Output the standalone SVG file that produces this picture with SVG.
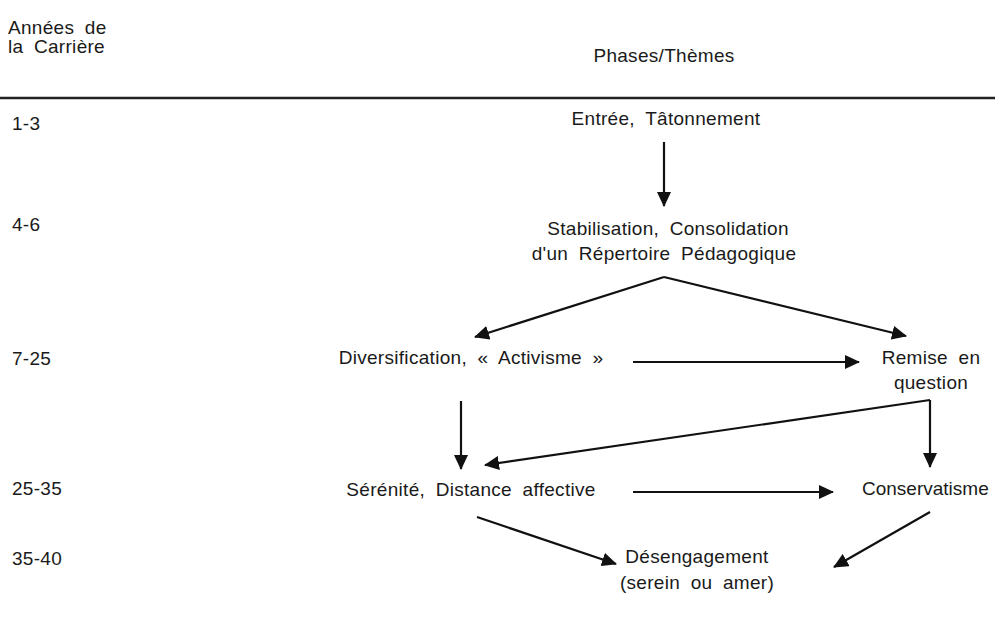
<svg xmlns="http://www.w3.org/2000/svg" width="995" height="630" viewBox="0 0 995 630">
<style>
text{font-family:"Liberation Sans",Arial,sans-serif;font-size:19px;fill:#1a1a1a;letter-spacing:0.3px;word-spacing:5px}
.c{text-anchor:middle}
.conn line,.conn polyline{stroke:#111;stroke-width:2.2;fill:none;marker-end:url(#ah)}
</style>
<defs>
<marker id="ah" markerUnits="userSpaceOnUse" markerWidth="16" markerHeight="14" refX="14" refY="7" orient="auto">
<path d="M0,0 L15,7 L0,14 Z" fill="#111"/>
</marker>
</defs>
<rect width="995" height="630" fill="#fff"/>
<g id="header">
<text x="8" y="34">Années de</text>
<text x="8" y="53">la Carrière</text>
<text class="c" x="664" y="62">Phases/Thèmes</text>
<line x1="0" y1="98" x2="995" y2="98" stroke="#222" stroke-width="2.5"/>
</g>
<g id="years">
<text x="12" y="130">1-3</text>
<text x="12" y="231">4-6</text>
<text x="12" y="365">7-25</text>
<text x="12" y="495">25-35</text>
<text x="12" y="565">35-40</text>
</g>
<g id="n-entree"><text class="c" x="666" y="125">Entrée, Tâtonnement</text></g>
<g id="n-stabilisation">
<text class="c" x="668" y="235">Stabilisation, Consolidation</text>
<text class="c" x="664" y="260">d'un Répertoire Pédagogique</text>
</g>
<g id="n-diversification"><text class="c" x="471" y="364">Diversification, « Activisme »</text></g>
<g id="n-remise">
<text class="c" x="931" y="364">Remise en</text>
<text class="c" x="931" y="389">question</text>
</g>
<g id="n-serenite"><text class="c" x="471" y="496">Sérénité, Distance affective</text></g>
<g id="n-conservatisme"><text x="862" y="495" style="letter-spacing:0">Conservatisme</text></g>
<g id="n-desengagement">
<text class="c" x="697" y="563">Désengagement</text>
<text class="c" x="697" y="589">(serein ou amer)</text>
</g>
<g id="connectors" class="conn">
<line x1="664" y1="142" x2="664" y2="206"/>
<line x1="664" y1="277" x2="475" y2="337"/>
<line x1="664" y1="277" x2="906" y2="336"/>
<line x1="633" y1="362" x2="859" y2="362"/>
<line x1="461" y1="401" x2="461" y2="469"/>
<polyline points="930,400 930,467"/>
<line x1="930" y1="400" x2="485" y2="465"/>
<line x1="633" y1="492" x2="833" y2="492"/>
<line x1="477" y1="517" x2="616" y2="564"/>
<line x1="930" y1="512" x2="834" y2="567"/>
</g>
</svg>
